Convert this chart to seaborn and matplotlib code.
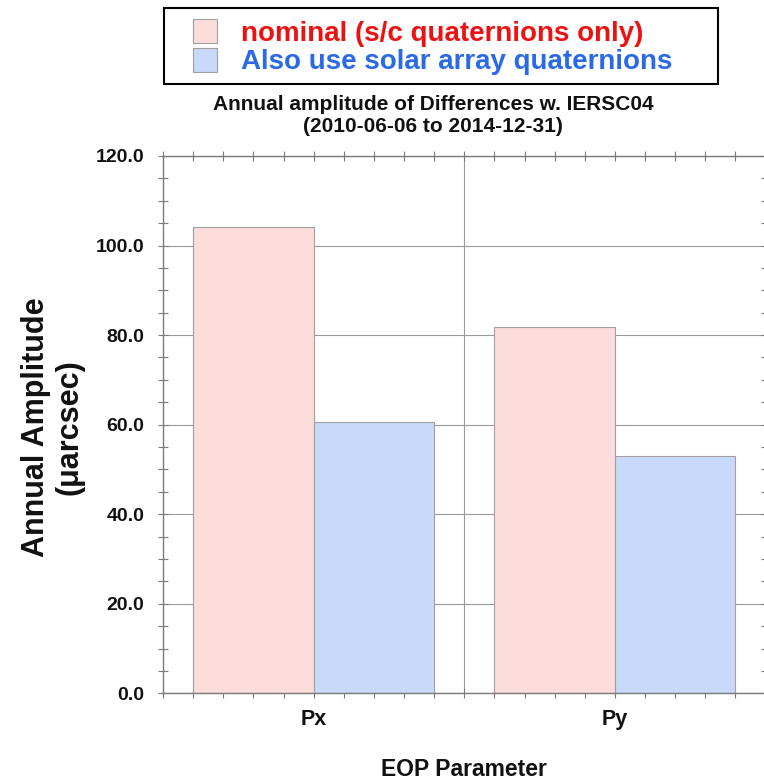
import numpy as np
import pandas as pd
import matplotlib
matplotlib.use("Agg")
import matplotlib.pyplot as plt
from matplotlib.ticker import MultipleLocator, FormatStrFormatter
from matplotlib.patches import Rectangle
import seaborn as sns

# ---- data ----
params = ["Px", "Py"]
series = ["nominal (s/c quaternions only)", "Also use solar array quaternions"]
nominal_vals = [104.2, 81.8]
solar_vals = [60.5, 53.0]

df = pd.DataFrame({
    "EOP Parameter": params * 2,
    "Amplitude": nominal_vals + solar_vals,
    "Series": [series[0]] * len(params) + [series[1]] * len(params),
})

sns.set_theme(style="white")
plt.rcParams["font.family"] = ["Liberation Sans", "DejaVu Sans"]
plt.rcParams["font.weight"] = "bold"

pink = "#fddcdc"
blue = "#c8d9f9"
gridc = "#9a9a9a"
spinec = "#7a7a7a"

fig = plt.figure(figsize=(7.64, 7.83), dpi=100)
ax = fig.add_axes([163 / 764, 1 - 693.3 / 783, (765.5 - 163) / 764, (693.3 - 156) / 783])

sns.barplot(data=df, x="EOP Parameter", y="Amplitude", hue="Series",
            palette=[pink, blue], width=0.8, gap=0, edgecolor="#a0a0a0",
            linewidth=0.8, ax=ax, zorder=2, saturation=1)

handles, labels = ax.get_legend_handles_labels()
if ax.get_legend() is not None:
    ax.get_legend().remove()

ax.set_xlim(-0.5, len(params) - 0.5)
ax.set_ylim(0, 120)

# grid
ax.yaxis.set_major_locator(MultipleLocator(20))
ax.yaxis.set_minor_locator(MultipleLocator(5))
ax.yaxis.set_major_formatter(FormatStrFormatter("%.1f"))
ax.xaxis.set_minor_locator(MultipleLocator(0.1))
ax.grid(axis="y", which="major", color=gridc, lw=0.8, zorder=0)
ax.set_axisbelow(True)
for i in range(len(params) - 1):
    ax.axvline((i + i + 1) / 2, color=gridc, lw=0.8, zorder=0)

for s in ax.spines.values():
    s.set_color(spinec)
    s.set_linewidth(1.0)
    s.set_visible(True)

ax.tick_params(axis="both", which="both", direction="inout", color=spinec,
               width=0.8, top=True, right=True, bottom=True, left=True)
ax.tick_params(axis="both", which="major", length=7)
ax.tick_params(axis="both", which="minor", length=7)
ax.tick_params(axis="y", which="major", labelsize=14, pad=10)
ax.tick_params(axis="x", which="major", labelsize=15.5, pad=8)
for lab in ax.get_xticklabels() + ax.get_yticklabels():
    lab.set_fontweight("bold")
    lab.set_color("#111111")

ax.set_xlabel("EOP Parameter", fontsize=16.5, fontweight="bold", color="#111111")
ax.xaxis.label.set_va("center")
ax.xaxis.set_label_coords(0.5, (693.3 - 770) / 537.3)

ax.set_ylabel("Annual Amplitude\n(\u03bcarcsec)", fontsize=22, fontweight="bold",
              color="#111111", linespacing=1.15)
ax.yaxis.label.set_va("center")
ax.yaxis.label.set_ha("center")
ax.yaxis.set_label_coords((53 - 163) / 602.5, 0.495)

fig.text(433 / 764, 1 - 115.5 / 783,
         "Annual amplitude of Differences w. IERSC04\n(2010-06-06 to 2014-12-31)",
         ha="center", va="center", fontsize=15, fontweight="bold",
         color="#111111", linespacing=1.15)

# legend box
fig.patches.append(Rectangle((164 / 764, 1 - 84 / 783), (718 - 164) / 764, 76 / 783,
                             transform=fig.transFigure, facecolor="white",
                             edgecolor="black", lw=1.5, zorder=1))
leg = fig.legend(handles, labels, loc="upper left",
                 bbox_to_anchor=(193 / 764, 1 - 19 / 783), frameon=False,
                 prop={"weight": "bold", "size": 20},
                 handlelength=0.87, handleheight=0.95, handletextpad=0.85,
                 labelspacing=0.04, borderpad=0, borderaxespad=0)
leg.set_zorder(3)
for txt, c in zip(leg.get_texts(), ["#ee1111", "#2a6ae8"]):
    txt.set_color(c)

fig.savefig("out.png", dpi=100)
